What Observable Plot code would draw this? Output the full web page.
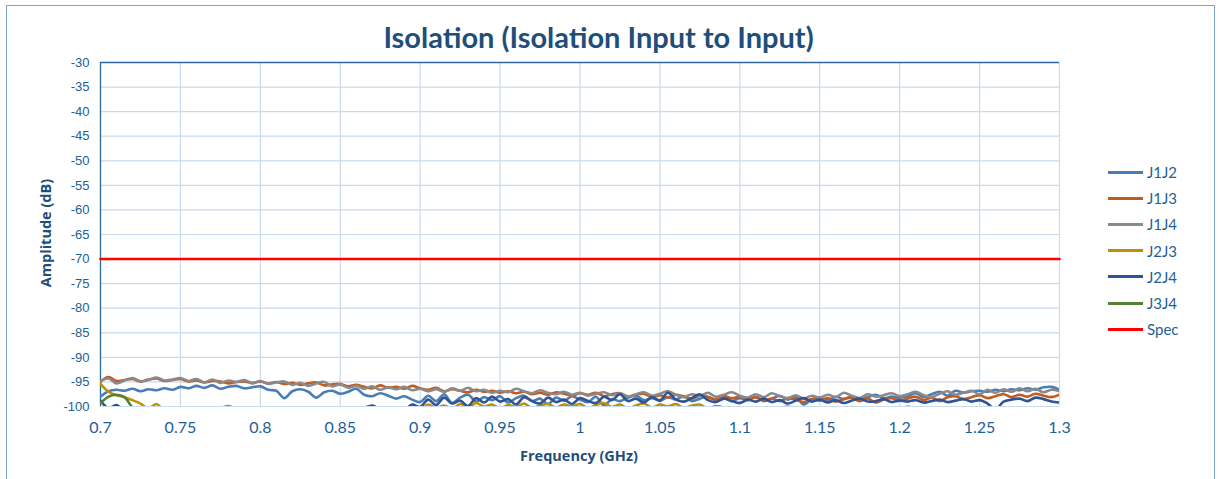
<!DOCTYPE html>
<html>
<head>
<meta charset="utf-8">
<script src="https://cdn.jsdelivr.net/npm/d3@7"></script>
<script src="https://cdn.jsdelivr.net/npm/@observablehq/plot@0.6"></script>
<style>
  html, body { margin: 0; padding: 0; background: #fff; }
  #wrap { position: relative; width: 1221px; height: 479px; overflow: hidden; font-family: Lato, "Open Sans", sans-serif; }
  #frame { position: absolute; left: 6px; top: 5px; width: 1209px; height: 500px; border: 1.5px solid #7ea5c9; box-sizing: border-box; }
  #chart { position: absolute; left: 0; top: 0; }
  #title { position: absolute; left: 0; width: 1197px; top: 19px; text-align: center; font-size: 29px; font-weight: bold; color: #1f4e79; }
  #ylab { position: absolute; left: 45px; top: 233px; transform: translate(-50%, -50%) rotate(-90deg); font-size: 14.5px; font-weight: bold; color: #1f4e79; white-space: nowrap; font-family: "Open Sans", Lato, sans-serif; }
  #xlab { position: absolute; left: 579px; top: 455px; transform: translate(-50%, -50%); font-size: 14.5px; font-weight: bold; color: #1f4e79; white-space: nowrap; font-family: "Open Sans", Lato, sans-serif; }
  #legend { position: absolute; left: 1108px; top: 159px; }
  .item { display: flex; align-items: center; height: 26.2px; }
  .sw { width: 35px; height: 3px; margin-right: 4px; }
  .lab { font-size: 15px; color: #1f5f94; }
</style>
</head>
<body>
<div id="wrap">
  <div id="frame"></div>
  <div id="chart"></div>
  <div id="title">Isolation (Isolation Input to Input)</div>
  <div id="ylab">Amplitude (dB)</div>
  <div id="xlab">Frequency (GHz)</div>
  <div id="legend"></div>
</div>
<script>
// ---- data ----
const seriesNames = ["J1J2", "J1J3", "J1J4", "J2J3", "J2J4", "J3J4", "Spec"];
const seriesColors = ["#4a7db5", "#c55a1f", "#8a8a8a", "#c09000", "#2f5496", "#548235", "#ff0000"];
const xTicks = [0.7, 0.75, 0.8, 0.85, 0.9, 0.95, 1, 1.05, 1.1, 1.15, 1.2, 1.25, 1.3];
const yTicks = [-30, -35, -40, -45, -50, -55, -60, -65, -70, -75, -80, -85, -90, -95, -100];
const freqStart = 0.7, freqStep = 0.005; // measurement frequency grid (GHz)

const J1J2 = [
  -98.0,-96.9,-96.6,-96.8,-96.4,-96.9,-96.5,-96.7,-96.3,-96.6,
  -96.0,-96.3,-95.8,-96.2,-95.7,-96.4,-96.0,-95.8,-96.3,-96.1,
  -95.9,-96.6,-96.8,-98.3,-96.9,-96.5,-97.0,-98.2,-97.1,-96.8,
  -97.4,-97.0,-96.4,-97.6,-97.9,-97.3,-97.8,-98.4,-97.9,-98.6,
  -99.1,-97.8,-98.9,-97.5,-99.3,-98.2,-97.6,-99.0,-98.1,-98.7,
  -97.9,-99.2,-98.3,-97.8,-98.9,-98.4,-99.5,-98.2,-98.8,-97.9,
  -98.6,-99.1,-98.0,-99.8,-98.5,-98.9,-98.2,-97.8,-98.7,-98.3,
  -98.8,-98.1,-98.6,-97.9,-98.9,-98.4,-98.0,-98.7,-98.2,-98.9,
  -98.3,-98.7,-98.1,-98.9,-98.4,-97.8,-98.6,-98.0,-99.6,-98.5,
  -98.2,-98.8,-98.0,-98.5,-97.9,-98.4,-98.1,-97.6,-98.3,-98.0,
  -98.2,-97.9,-97.3,-98.1,-97.5,-97.0,-97.8,-96.8,-97.2,-96.9,
  -96.8,-97.0,-96.6,-96.9,-96.5,-96.7,-96.3,-96.6,-96.1,-96.0,
  -96.6
];
const J1J3 = [
  -95.0,-94.0,-94.8,-94.6,-94.4,-94.9,-94.5,-94.3,-94.8,-94.6,
  -94.4,-94.9,-94.7,-95.1,-94.8,-94.9,-95.3,-95.0,-94.9,-95.2,
  -94.9,-95.3,-95.0,-95.4,-95.2,-95.6,-95.3,-95.1,-95.7,-95.5,
  -95.4,-95.9,-95.6,-96.0,-96.3,-95.7,-96.2,-96.0,-96.4,-95.8,
  -96.3,-96.6,-96.2,-96.9,-96.5,-96.8,-97.1,-96.6,-97.0,-96.8,
  -97.2,-96.9,-97.3,-97.0,-97.5,-97.2,-97.6,-97.1,-97.4,-97.8,
  -97.3,-97.6,-97.2,-97.9,-97.5,-97.3,-98.0,-97.6,-97.4,-98.1,
  -97.7,-98.2,-97.6,-98.0,-98.4,-97.8,-98.1,-98.6,-97.9,-98.3,
  -98.0,-98.5,-98.1,-98.7,-98.4,-98.9,-98.3,-98.6,-99.1,-98.5,
  -98.8,-98.3,-99.0,-98.5,-98.2,-98.9,-98.4,-99.2,-98.6,-98.3,
  -98.8,-98.4,-98.0,-98.7,-98.2,-98.9,-98.1,-97.9,-98.5,-98.1,
  -97.7,-98.3,-97.9,-97.5,-98.1,-97.6,-98.0,-97.4,-97.8,-98.1,
  -97.6
];
const J1J4 = [
  -94.8,-94.3,-95.3,-94.7,-94.2,-94.9,-94.6,-94.1,-94.7,-94.5,
  -94.2,-94.8,-94.4,-95.1,-94.5,-95.2,-94.7,-95.0,-94.6,-95.3,
  -94.8,-95.4,-95.1,-94.9,-95.6,-95.2,-95.8,-95.3,-95.0,-95.9,
  -95.5,-96.2,-95.8,-96.4,-95.9,-96.6,-96.1,-96.5,-96.0,-96.7,
  -96.4,-96.9,-96.5,-97.0,-96.3,-96.8,-96.2,-96.9,-96.6,-97.2,
  -96.8,-97.1,-96.4,-96.9,-97.3,-96.7,-97.2,-97.5,-97.0,-97.6,
  -97.2,-97.8,-97.4,-97.1,-97.7,-97.3,-98.0,-97.5,-97.1,-97.8,
  -97.4,-96.9,-97.6,-98.1,-97.5,-97.9,-97.2,-98.0,-97.6,-97.1,
  -97.8,-98.2,-97.5,-98.1,-97.3,-97.9,-98.3,-97.7,-98.4,-97.8,
  -98.2,-97.6,-98.1,-97.2,-97.8,-98.3,-97.5,-98.0,-97.7,-97.3,
  -97.9,-97.5,-97.0,-97.7,-98.1,-97.4,-96.9,-97.6,-97.2,-96.8,
  -97.5,-96.6,-97.2,-96.5,-97.0,-96.3,-96.9,-96.4,-97.1,-96.6,
  -96.9
];
const J2J3 = [
  -95.4,-97.0,-97.7,-98.1,-98.7,-99.4,-100.4,-99.5,-100.9,-101.5,
  -101.9,-102.4,-101.7,-102.6,-101.3,-100.4,-99.9,-100.6,-101.4,-102.0,
  -102.5,-101.8,-102.9,-102.2,-101.6,-102.8,-102.1,-101.5,-100.9,-101.6,
  -101.0,-101.7,-100.8,-101.4,-100.6,-101.2,-100.4,-101.0,-100.5,-100.1,
  -100.7,-99.6,-100.3,-99.8,-100.5,-99.5,-100.2,-99.3,-100.0,-99.6,
  -100.4,-99.7,-100.1,-99.4,-100.3,-99.8,-99.5,-100.2,-99.6,-100.0,
  -99.5,-100.3,-99.7,-99.3,-100.1,-99.6,-100.4,-99.8,-99.4,-100.2,
  -99.6,-100.0,-99.5,-100.3,-99.8,-99.6,-100.4,-99.9,-100.2,-100.8,
  -100.5,-101.0,-100.3,-100.7,-101.2,-100.4,-100.0,-100.6,-101.1,-100.5,
  -100.9,-100.3,-101.0,-100.6,-100.1,-100.8,-101.3,-100.5,-100.9,-100.4,
  -100.7,-100.0,-100.6,-101.2,-100.5,-100.9,-100.3,-100.8,-101.0,-100.2,
  -100.6,-100.1,-100.8,-101.1,-100.4,-100.7,-100.2,-100.9,-100.5,-101.0,
  -100.6
];
const J2J4 = [
  -98.8,-100.3,-99.7,-100.9,-101.5,-102.0,-101.8,-102.5,-101.9,-102.8,
  -102.3,-103.0,-102.6,-103.1,-102.4,-102.9,-103.3,-102.7,-103.0,-102.5,
  -102.8,-103.2,-102.6,-102.9,-103.4,-102.7,-102.2,-101.5,-100.8,-101.3,
  -101.0,-101.6,-100.9,-100.3,-99.8,-100.6,-100.9,-100.2,-100.7,-99.6,
  -100.1,-98.6,-99.7,-98.2,-99.4,-98.8,-99.9,-98.3,-99.2,-98.0,
  -99.0,-98.5,-99.6,-98.1,-98.9,-99.4,-98.2,-99.1,-98.6,-99.5,
  -98.3,-98.9,-99.3,-98.0,-98.7,-97.5,-98.9,-98.4,-99.2,-98.1,
  -98.8,-97.2,-98.6,-99.0,-98.3,-97.5,-98.7,-99.1,-98.4,-98.9,
  -99.3,-98.6,-99.0,-98.4,-99.1,-98.7,-99.4,-98.8,-98.3,-99.0,
  -98.6,-99.2,-98.7,-99.3,-98.8,-98.4,-99.0,-98.9,-98.5,-99.1,
  -98.8,-99.0,-98.7,-99.2,-98.9,-98.6,-99.1,-98.8,-98.5,-99.0,
  -98.7,-99.4,-100.6,-99.0,-98.6,-98.4,-98.9,-98.2,-98.5,-99.0,
  -99.2
];
const J3J4 = [
  -99.4,-98.0,-97.6,-98.1,-100.2,-101.3,-102.1,-102.6,-103.0,-103.2,
  -103.2,-103.6,-103.1,-103.9,-104.2,-103.7,-104.4,-104.0,-104.6,-104.1,
  -104.5,-104.9,-104.3,-104.7,-105.0,-104.6,-104.8,-104.2,-104.5,-104.0,
  -104.3,-103.8,-104.1,-103.6,-103.9,-103.4,-103.7,-103.2,-103.5,-103.0,
  -103.3,-102.8,-103.1,-102.6,-102.9,-102.4,-102.7,-102.2,-102.5,-102.1,
  -102.4,-101.9,-102.2,-101.7,-102.0,-101.6,-101.9,-101.4,-101.8,-101.3,
  -101.7,-101.2,-101.6,-101.1,-101.5,-101.0,-101.4,-101.1,-101.6,-101.2,
  -101.5,-101.0,-101.4,-101.8,-101.3,-101.7,-101.2,-101.6,-102.0,-101.5,
  -101.9,-101.4,-101.8,-102.2,-101.7,-102.1,-101.6,-102.0,-102.4,-101.9,
  -102.3,-101.8,-102.2,-102.6,-102.1,-102.5,-102.0,-102.4,-102.8,-102.3,
  -102.7,-102.2,-102.6,-103.0,-102.5,-102.9,-102.4,-102.8,-103.2,-102.7,
  -103.1,-102.6,-103.0,-103.4,-102.9,-103.3,-102.8,-103.2,-103.6,-103.1,
  -103.5
];
const specFreq = [0.7, 1.3];
const specLevel = [-70, -70];

// ---- build ----
const measured = {J1J2, J1J3, J1J4, J2J3, J2J4, J3J4};
const rows = [];
for (const [name, vals] of Object.entries(measured)) {
  vals.forEach((v, i) => rows.push({series: name, freq: +(freqStart + i * freqStep).toFixed(4), amp: v}));
}
const specRows = specFreq.map((f, i) => ({series: "Spec", freq: f, amp: specLevel[i]}));

const tickColor = "#22609a";
const fmtX = d => String(+d.toFixed(2));
const fmtY = d => String(d);

const chart = Plot.plot({
  width: 1221,
  height: 479,
  marginLeft: 100,
  marginRight: 162,
  marginTop: 62,
  marginBottom: 73,
  style: {fontFamily: "Lato, 'Open Sans', sans-serif", background: "transparent"},
  x: {domain: [0.7, 1.3], label: null},
  y: {domain: [-100, -30], label: null},
  color: {domain: seriesNames, range: seriesColors},
  marks: [
    Plot.gridX(xTicks, {stroke: "#c9dbee", strokeOpacity: 1, strokeWidth: 1.2}),
    Plot.gridY(yTicks, {stroke: "#c9dbee", strokeOpacity: 1, strokeWidth: 1.2}),
    Plot.axisX(xTicks, {tickSize: 0, tickPadding: 15, tickFormat: fmtX, fontSize: 16, fill: tickColor}),
    Plot.axisY(yTicks, {tickSize: 0, tickPadding: 11, tickFormat: fmtY, fontSize: 13, fill: tickColor, fontFamily: "'Liberation Sans', Arial, sans-serif"}),
    Plot.ruleY([-30], {stroke: "#2f6a9e", strokeWidth: 1.3}),
    Plot.ruleX([0.7], {stroke: "#2f6a9e", strokeWidth: 1.3}),
    Plot.line(rows, {x: "freq", y: "amp", z: "series", stroke: "series", strokeWidth: 2.6, curve: "catmull-rom", clip: true}),
    Plot.line(specRows, {x: "freq", y: "amp", stroke: "series", strokeWidth: 2.6})
  ]
});
document.getElementById("chart").appendChild(chart);

const legend = document.getElementById("legend");
seriesNames.forEach((n, i) => {
  const it = document.createElement("div");
  it.className = "item";
  it.innerHTML = `<div class="sw" style="background:${seriesColors[i]}"></div><div class="lab">${n}</div>`;
  legend.appendChild(it);
});
</script>
</body>
</html>
